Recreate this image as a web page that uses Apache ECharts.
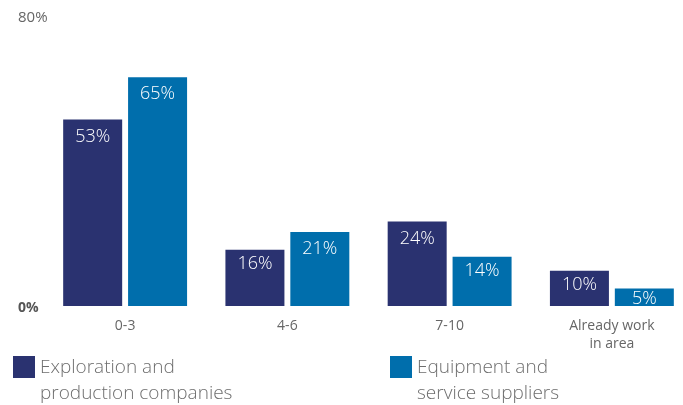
<!DOCTYPE html>
<html>
<head>
<meta charset="utf-8">
<script src="https://cdn.jsdelivr.net/npm/echarts@6/dist/echarts.min.js"></script>
<style>html,body{margin:0;padding:0;background:#fff;}#c{width:683px;height:405px;}</style>
</head>
<body>
<div id="c"></div>
<script>
const categories = ['0-3', '4-6', '7-10', 'Already work\nin area'];
const seriesNames = ['Exploration and\nproduction companies', 'Equipment and\nservice suppliers'];
const exploration = [53, 16, 24, 10];
const equipment = [65, 21, 14, 5];
const yTicks = [0, 80];

const FONT = '"Open Sans", sans-serif';
const chart = echarts.init(document.getElementById('c'));
const labelOpt = {
  show: true, position: 'insideTop', distance: 8,
  color: '#fff', fontSize: 18, fontFamily: FONT, fontWeight: 300,
  formatter: p => p.value + '%'
};
// short bars get their label nudged closer to the bar top so it stays inside
const withLabels = vals => vals.map(v => ({
  value: v,
  label: { distance: v < 8 ? 1 : v < 20 ? 5 : 8 }
}));
const legendText = {
  fontSize: 19, color: '#6e6e6e', fontFamily: FONT, fontWeight: 300, lineHeight: 26,
  rich: {
    s: { fontSize: 1, lineHeight: 28, height: 28 },
    b: { fontSize: 19, lineHeight: 26, color: '#6e6e6e', fontFamily: FONT, fontWeight: 300 }
  }
};
const legendFmt = name => '{s| }\n' + name.split('\n').map(l => '{b|' + l + '}').join('\n');
chart.setOption({
  animation: false,
  textStyle: { fontFamily: FONT },
  grid: { left: 44, width: 649, top: 24.4, bottom: 99, containLabel: false, outerBoundsMode: 'none' },
  legend: [
    { data: [seriesNames[0]], left: 13, top: 327, padding: 0, itemWidth: 22, itemHeight: 22, itemGap: 0,
      icon: 'rect', formatter: legendFmt, textStyle: legendText },
    { data: [seriesNames[1]], left: 390, top: 327, padding: 0, itemWidth: 22, itemHeight: 22, itemGap: 0,
      icon: 'rect', formatter: legendFmt, textStyle: legendText }
  ],
  xAxis: {
    type: 'category', data: categories,
    axisLine: { show: false }, axisTick: { show: false },
    axisLabel: { margin: 11, fontSize: 14, color: '#666', lineHeight: 18, fontFamily: FONT }
  },
  yAxis: {
    type: 'value', min: yTicks[0], max: yTicks[1], interval: yTicks[1] - yTicks[0],
    splitLine: { show: false }, axisLine: { show: false }, axisTick: { show: false },
    axisLabel: {
      align: 'left', margin: 26, fontSize: 15, color: '#666', fontFamily: FONT,
      formatter: v => v === 0 ? '{b|0%}' : '{t|' + v + '%}',
      rich: {
        b: { fontSize: 14, color: '#555', fontWeight: 'bold', padding: [4, 0, 0, 0], fontFamily: FONT },
        t: { fontSize: 15, color: '#666', padding: [0, 0, 13, 0], fontFamily: FONT }
      }
    }
  },
  series: [
    { name: seriesNames[0], type: 'bar', data: withLabels(exploration), barWidth: 59, barGap: '10%',
      itemStyle: { color: '#2a3270' }, label: labelOpt },
    { name: seriesNames[1], type: 'bar', data: withLabels(equipment), barWidth: 59, barGap: '10%',
      itemStyle: { color: '#006eac' }, label: labelOpt }
  ]
});
</script>
</body>
</html>
